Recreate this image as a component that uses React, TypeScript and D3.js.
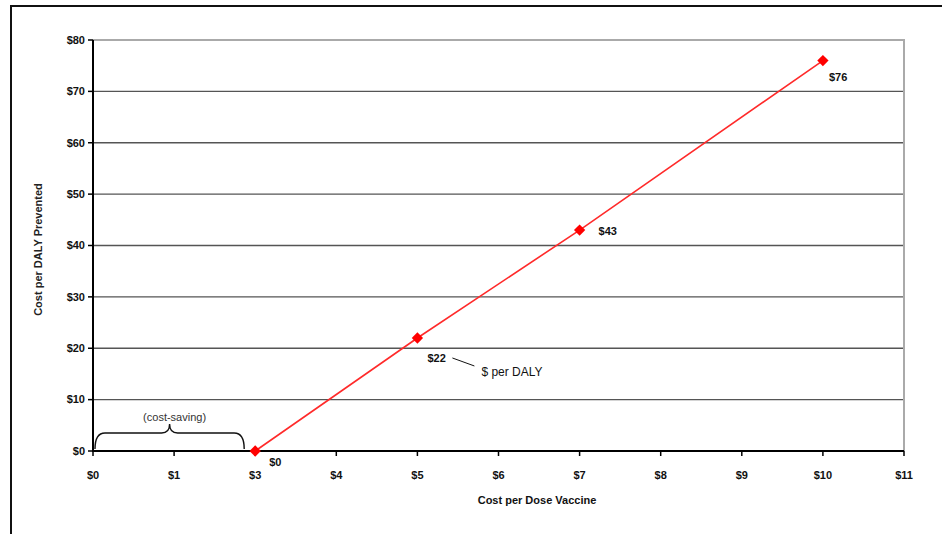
import * as d3 from "d3";

// Category axis as printed (the source skips $2)
const categories = ["$0", "$1", "$3", "$4", "$5", "$6", "$7", "$8", "$9", "$10", "$11"];
const yTicks = [0, 10, 20, 30, 40, 50, 60, 70, 80];

// Cost per DALY prevented at each vaccine dose price
const pointCats = ["$3", "$5", "$7", "$10"];
const pointValues = [0, 22, 43, 76];
const pointLabels = ["$0", "$22", "$43", "$76"];

const W = 942;
const H = 534;
const PLOT = { left: 93, right: 904, top: 40, bottom: 451 };
const FONT = "Arial, 'Liberation Sans', sans-serif";

// label offsets relative to each marker, in px
const LABEL_OFFSET: [number, number][] = [
  [14, 15],
  [10, 24],
  [19, 5],
  [6, 20],
];

export default function App() {
  const x = d3.scalePoint<string>().domain(categories).range([PLOT.left, PLOT.right]);
  const y = d3.scaleLinear().domain([0, 80]).range([PLOT.bottom, PLOT.top]);

  const pts = pointCats.map((c, i) => ({ c, v: pointValues[i], label: pointLabels[i] }));
  const line = d3
    .line<{ c: string; v: number }>()
    .x((d) => x(d.c)!)
    .y((d) => y(d.v));
  // Excel-style diamond: a square turned 45°
  const diamond = d3.symbol(d3.symbolSquare, 64)()!;

  // brace over the cost-saving range, $0 → just short of $3
  const bx0 = x("$0")! + 2;
  const bx1 = x("$3")! - 11;
  const bm = (bx0 + bx1) / 2;
  const yb = y(0) - 2;
  const yt = y(0) - 18;
  const brace = d3.path();
  brace.moveTo(bx0, yb);
  brace.quadraticCurveTo(bx0, yt, bx0 + 10, yt);
  brace.lineTo(bm - 8, yt);
  brace.quadraticCurveTo(bm, yt, bm, yt - 9);
  brace.quadraticCurveTo(bm, yt, bm + 8, yt);
  brace.lineTo(bx1 - 10, yt);
  brace.quadraticCurveTo(bx1, yt, bx1, yb);

  const p22 = pts[1];
  const l22x = x(p22.c)! + LABEL_OFFSET[1][0];
  const l22y = y(p22.v) + LABEL_OFFSET[1][1];

  return (
    <svg
      width={W}
      height={H}
      style={{ position: "absolute", left: 0, top: 0, background: "#fff" }}
      fontFamily={FONT}
    >
      {/* outer frame */}
      <line x1={10} x2={W} y1={6} y2={6} stroke="#111" strokeWidth={2} />
      <line x1={11} x2={11} y1={5} y2={H} stroke="#111" strokeWidth={2} />

      {/* gridlines */}
      {yTicks.slice(1).map((t) => (
        <line
          key={t}
          x1={PLOT.left}
          x2={PLOT.right}
          y1={y(t)}
          y2={y(t)}
          stroke={t === 80 ? "#aaa" : "#555"}
          strokeWidth={t === 80 ? 2 : 1.4}
        />
      ))}
      <line x1={PLOT.right} x2={PLOT.right} y1={PLOT.top - 1} y2={PLOT.bottom} stroke="#aaa" strokeWidth={2} />

      {/* axes */}
      <line x1={PLOT.left} x2={PLOT.left} y1={PLOT.top} y2={PLOT.bottom + 1} stroke="#000" strokeWidth={2} />
      <line x1={PLOT.left - 1} x2={PLOT.right} y1={PLOT.bottom} y2={PLOT.bottom} stroke="#000" strokeWidth={2} />

      {yTicks.map((t) => (
        <g key={t} transform={`translate(0,${y(t)})`}>
          <line x1={PLOT.left - 5} x2={PLOT.left} stroke="#000" strokeWidth={1.5} />
          <text x={PLOT.left - 8} dy="0.35em" textAnchor="end" fontSize={11} fontWeight="bold" fill="#111">
            ${t}
          </text>
        </g>
      ))}

      {categories.map((c) => (
        <g key={c} transform={`translate(${x(c)},0)`}>
          <line y1={PLOT.bottom} y2={PLOT.bottom + 5} stroke="#000" strokeWidth={1.5} />
          <text y={479} textAnchor="middle" fontSize={11} fontWeight="bold" fill="#111">
            {c}
          </text>
        </g>
      ))}

      {/* axis titles */}
      <text x={537} y={504} textAnchor="middle" fontSize={11} fontWeight="bold" fill="#111">
        Cost per Dose Vaccine
      </text>
      <text
        transform={`translate(42,${(PLOT.top + PLOT.bottom) / 2 + 4}) rotate(-90)`}
        textAnchor="middle"
        fontSize={11}
        fontWeight="bold"
        fill="#222"
      >
        Cost per DALY Prevented
      </text>

      {/* series */}
      <path d={line(pts)!} fill="none" stroke="#ff2a2a" strokeWidth={1.6} />
      {pts.map((p) => (
        <path
          key={p.c}
          d={diamond}
          transform={`translate(${x(p.c)},${y(p.v)}) rotate(45)`}
          fill="#ff0000"
        />
      ))}
      {pts.map((p, i) => (
        <text
          key={p.c}
          x={x(p.c)! + LABEL_OFFSET[i][0]}
          y={y(p.v) + LABEL_OFFSET[i][1]}
          fontSize={11}
          fontWeight="bold"
          fill="#111"
        >
          {p.label}
        </text>
      ))}

      {/* callout for the $22 point */}
      <line x1={l22x + 25} x2={l22x + 47} y1={l22y - 4} y2={l22y + 4} stroke="#111" strokeWidth={1} />
      <text x={l22x + 54} y={l22y + 14} fontSize={12} fill="#111">
        $  per DALY
      </text>

      {/* cost-saving brace */}
      <path d={brace.toString()} fill="none" stroke="#111" strokeWidth={1.4} />
      <text x={bm + 5} y={yt - 12} textAnchor="middle" fontSize={11} fill="#333">
        (cost-saving)
      </text>
    </svg>
  );
}
